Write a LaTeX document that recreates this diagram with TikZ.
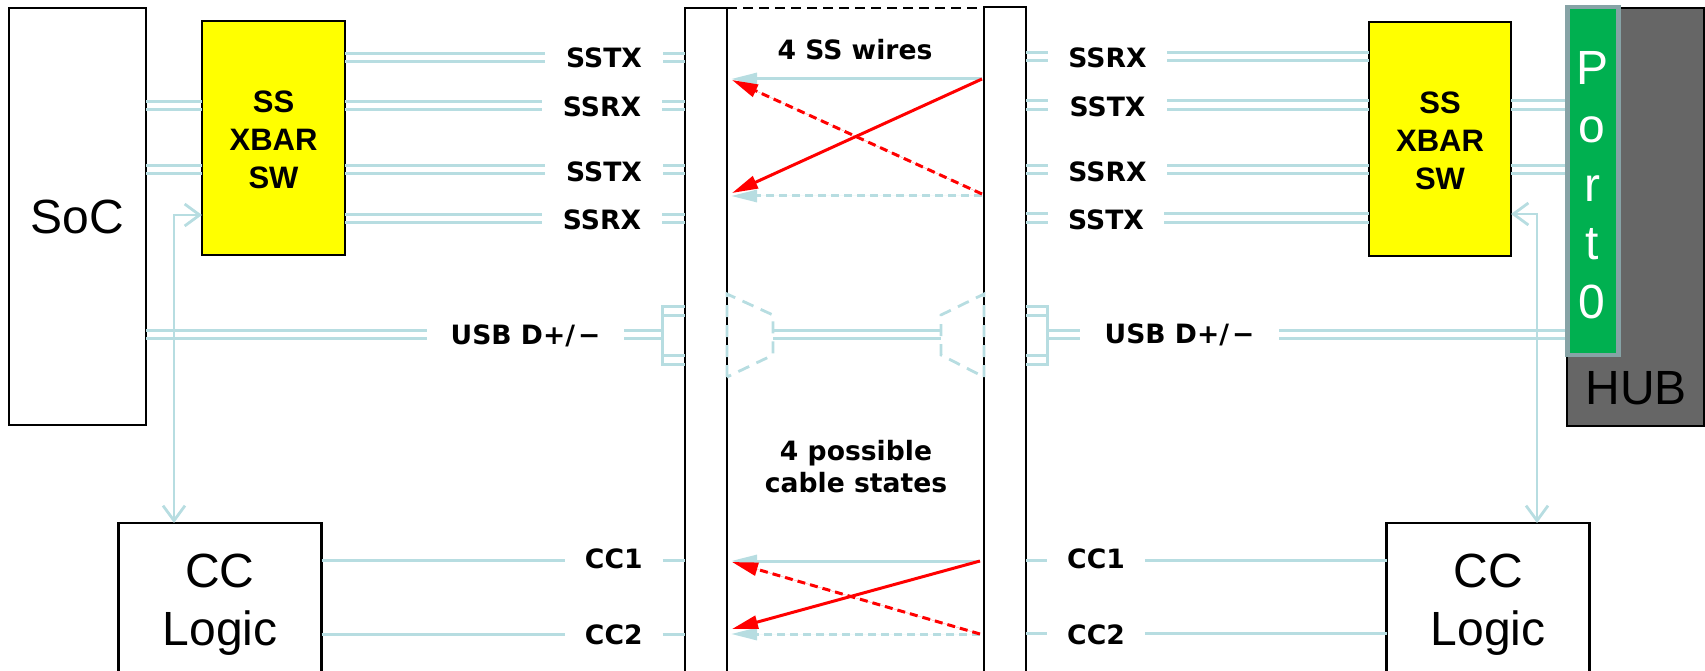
\documentclass[tikz,border=0pt]{standalone}
\usepackage{fontspec}
\setmainfont{Liberation Sans}
\newfontfamily\lblfont{DejaVu Sans}
\usetikzlibrary{arrows.meta}
\definecolor{wireblue}{HTML}{B7DDE1}
\definecolor{xbaryellow}{HTML}{FFFF00}
\definecolor{portgreen}{HTML}{00B050}
\definecolor{portedge}{HTML}{86A3A6}
\definecolor{hubgrey}{HTML}{666666}
\newcommand\hw[3]{\draw[wire] (#1 |- 0,#3) -- (#2 |- 0,#3);}
\tikzset{
  every node/.style={outer sep=0pt,inner sep=0pt},
  bigtext/.style={font=\fontsize{48}{58}\selectfont,align=center},
  box/.style={draw=black,line width=2.6pt,fill=white,bigtext},
  xbar/.style={draw=black,line width=2.8pt,fill=xbaryellow,font=\fontsize{31}{38}\selectfont\bfseries,align=center},
  lbl/.style={font=\lblfont\fontsize{26.6}{32}\selectfont\bfseries,align=center},
  wire/.style={draw=wireblue,line width=3pt},
  ctrl/.style={draw=wireblue,line width=2.8pt,{Straight Barb[length=15pt,width=22pt]}-{Straight Barb[length=15pt,width=22pt]}},
  edge/.style={draw=black,line width=2.8pt},
  wdash/.style={draw=wireblue,line width=2.8pt,dash pattern=on 12pt off 8pt},
  bluearrow/.style={draw=wireblue,fill=wireblue,line width=3pt,-{Triangle[length=26pt,width=12pt]}},
  redarrow/.style={draw=red,fill=red,line width=3pt,-{Triangle[length=26pt,width=13pt]}},
  dashline/.style={dash pattern=on 8pt off 5pt},
}
\begin{document}
\begin{tikzpicture}[x=1pt,y=-1pt]
\useasboundingbox (0,0) rectangle (1705,671);
% boxes
\node[box,minimum width=137,minimum height=417] (soc) at (77.5,216.5) {SoC};
\node[xbar,minimum width=143,minimum height=234] (xbarL) at (273.5,138) {\rule{0pt}{25pt}SS\\XBAR\\SW};
\node[xbar,minimum width=142,minimum height=234] (xbarR) at (1440,139) {\rule{0pt}{25pt}SS\\XBAR\\SW};
\node[draw=black,line width=2.6pt,fill=hubgrey,minimum width=137,minimum height=418] (hub) at (1635.5,217) {};
\node[bigtext] (hubtext) at (1636,388) {HUB};
\node[minimum width=203,minimum height=149] (ccL) at (220,597.5) {};
\node[minimum width=203,minimum height=149] (ccR) at (1488,597.5) {};
\node[bigtext] (ccLtext) at (220,605) {CC\\Logic};
\node[bigtext] (ccRtext) at (1488,605) {CC\\Logic};
\draw[edge] (ccL.south west) -- (ccL.north west) -- (ccL.north east) -- (ccL.south east);
\draw[edge] (ccR.south west) -- (ccR.north west) -- (ccR.north east) -- (ccR.south east);
% cable blocks
\node[minimum width=42,minimum height=663] (cableL) at (706,339.5) {};
\node[minimum width=42,minimum height=664] (cableR) at (1005,339) {};
\draw[edge] (cableL.south west) -- (cableL.north west) -- (cableL.north east) -- (cableL.south east);
\draw[edge] (cableR.south west) -- (cableR.north west) -- (cableR.north east) -- (cableR.south east);
\draw[draw=black,line width=2.6pt,dash pattern=on 10pt off 6pt] (cableL.north east) -- (cableL.north east -| cableR.west);
% labels
\node[lbl,minimum width=118] (lsstxA) at (604,58) {SSTX};
\node[lbl,minimum width=120] (lssrxA) at (602,107) {SSRX};
\node[lbl,minimum width=118] (lsstxB) at (604,172) {SSTX};
\node[lbl,minimum width=120] (lssrxB) at (602,220) {SSRX};
\node[lbl,minimum width=119] (rssrxA) at (1107.5,58) {SSRX};
\node[lbl,minimum width=119] (rsstxA) at (1107.5,107) {SSTX};
\node[lbl,minimum width=119] (rssrxB) at (1107.5,172) {SSRX};
\node[lbl,minimum width=116] (rsstxB) at (1106,220) {SSTX};
\node[lbl,minimum width=197] (usbL) at (525.5,336) {USB D+/\kern3pt−};
\node[lbl,minimum width=199] (usbR) at (1179.5,335) {USB D+/\kern3pt−};
\node[lbl,minimum width=97.5] (cc1L) at (613.75,559) {CC1};
\node[lbl,minimum width=97.5] (cc2L) at (613.75,635) {CC2};
\node[lbl,minimum width=97.5] (cc1R) at (1096,559) {CC1};
\node[lbl,minimum width=97.5] (cc2R) at (1096,635) {CC2};
\node[lbl] (wires) at (855,50) {4 SS wires};
\node[lbl] (states) at (856,467) {4 possible\\cable states};
% SoC to xbar
\hw{soc.east}{xbarL.west}{102}\hw{soc.east}{xbarL.west}{110}
\hw{soc.east}{xbarL.west}{166}\hw{soc.east}{xbarL.west}{174}
% left rows
\hw{xbarL.east}{lsstxA.west}{53.5}\hw{xbarL.east}{lsstxA.west}{62}
\hw{lsstxA.east}{cableL.west}{53.5}\hw{lsstxA.east}{cableL.west}{62}
\hw{xbarL.east}{lssrxA.west}{102}\hw{xbarL.east}{lssrxA.west}{110}
\hw{lssrxA.east}{cableL.west}{102}\hw{lssrxA.east}{cableL.west}{110}
\hw{xbarL.east}{lsstxB.west}{166}\hw{xbarL.east}{lsstxB.west}{174}
\hw{lsstxB.east}{cableL.west}{166}\hw{lsstxB.east}{cableL.west}{174}
\hw{xbarL.east}{lssrxB.west}{215}\hw{xbarL.east}{lssrxB.west}{223}
\hw{lssrxB.east}{cableL.west}{215}\hw{lssrxB.east}{cableL.west}{223}
% right rows
\hw{cableR.east}{rssrxA.west}{53}\hw{cableR.east}{rssrxA.west}{61}
\hw{rssrxA.east}{xbarR.west}{53}\hw{rssrxA.east}{xbarR.west}{61}
\hw{cableR.east}{rsstxA.west}{101}\hw{cableR.east}{rsstxA.west}{110}
\hw{rsstxA.east}{xbarR.west}{101}\hw{rsstxA.east}{xbarR.west}{110}
\hw{cableR.east}{rssrxB.west}{166}\hw{cableR.east}{rssrxB.west}{174}
\hw{rssrxB.east}{xbarR.west}{166}\hw{rssrxB.east}{xbarR.west}{174}
\hw{cableR.east}{rsstxB.west}{214}\hw{cableR.east}{rsstxB.west}{223}
\hw{rsstxB.east}{xbarR.west}{214}\hw{rsstxB.east}{xbarR.west}{223}
% xbar to hub
\hw{xbarR.east}{hub.west}{101}\hw{xbarR.east}{hub.west}{110}
\hw{xbarR.east}{hub.west}{166}\hw{xbarR.east}{hub.west}{174}
% USB
\coordinate (bktL) at (662,335);
\coordinate (bktR) at (1047,335);
\coordinate (trapL) at (773,335);
\coordinate (trapR) at (941,335);
\hw{soc.east}{usbL.west}{330}\hw{soc.east}{usbL.west}{338}
\hw{usbL.east}{bktL}{330}\hw{usbL.east}{bktL}{338}
\hw{trapL}{trapR}{330}\hw{trapL}{trapR}{338}
\hw{bktR}{usbR.west}{330}\hw{bktR}{usbR.west}{338}
\hw{usbR.east}{hub.west}{330}\hw{usbR.east}{hub.west}{338}
\draw[wire] (cableL.west |- 0,306) -- (bktL |- 0,306) -- (bktL |- 0,364) -- (cableL.west |- 0,364);
\hw{bktL}{cableL.west}{315}\hw{bktL}{cableL.west}{355}
\draw[wire] (cableR.east |- 0,306) -- (bktR |- 0,306) -- (bktR |- 0,364) -- (cableR.east |- 0,364);
\hw{bktR}{cableR.east}{315}\hw{bktR}{cableR.east}{355}
\draw[wdash] (cableL.east |- 0,377) -- (cableL.east |- 0,294) -- (trapL |- 0,315) -- (trapL |- 0,355) -- (cableL.east |- 0,377);
\draw[wdash] (cableR.west |- 0,377) -- (cableR.west |- 0,294) -- (trapR |- 0,315) -- (trapR |- 0,355) -- (cableR.west |- 0,377);
% CC rows
\hw{ccL.east}{cc1L.west}{560}\hw{cc1L.east}{cableL.west}{560}
\hw{ccL.east}{cc2L.west}{634}\hw{cc2L.east}{cableL.west}{634}
\hw{cableR.east}{cc1R.west}{560}\hw{cc1R.east}{ccR.west}{560}
\hw{cableR.east}{cc2R.west}{633}\hw{cc2R.east}{ccR.west}{633}
% control arrows
\coordinate (ctlL) at (174,300);
\coordinate (ctlR) at (1537,300);
\draw[ctrl] (xbarL.west |- 0,215) -- (ctlL |- 0,215) -- (ctlL |- ccL.north);
\draw[ctrl] (xbarR.east |- 0,214) -- (ctlR |- 0,214) -- (ctlR |- ccR.north);
% port on top
\node[draw=portedge,line width=4.7pt,fill=portgreen,minimum width=51,minimum height=348] (port) at (1593,181) {};
\node[bigtext,text=white,font=\fontsize{48}{58.5}\selectfont] (porttext) at (1592,185) {P\\o\\r\\t\\0};
% crossing arrows
\coordinate (ssT) at (982,79);
\coordinate (ssB) at (982,194);
\coordinate (ccT) at (980,561);
\coordinate (ccB) at (980,634);
\draw[bluearrow] (ssT) -- (731,79);
\draw[bluearrow,dashline] (982,196) -- (731,196);
\draw[redarrow] (ssT) -- (732,193);
\draw[redarrow,dashline] (ssB) -- (732,80);
\draw[bluearrow] (ccT) -- (731,561);
\draw[bluearrow,dashline] (ccB) -- (731,634);
\draw[redarrow] (ccT) -- (732,629);
\draw[redarrow,dashline] (ccB) -- (732,562);
\end{tikzpicture}
\end{document}
